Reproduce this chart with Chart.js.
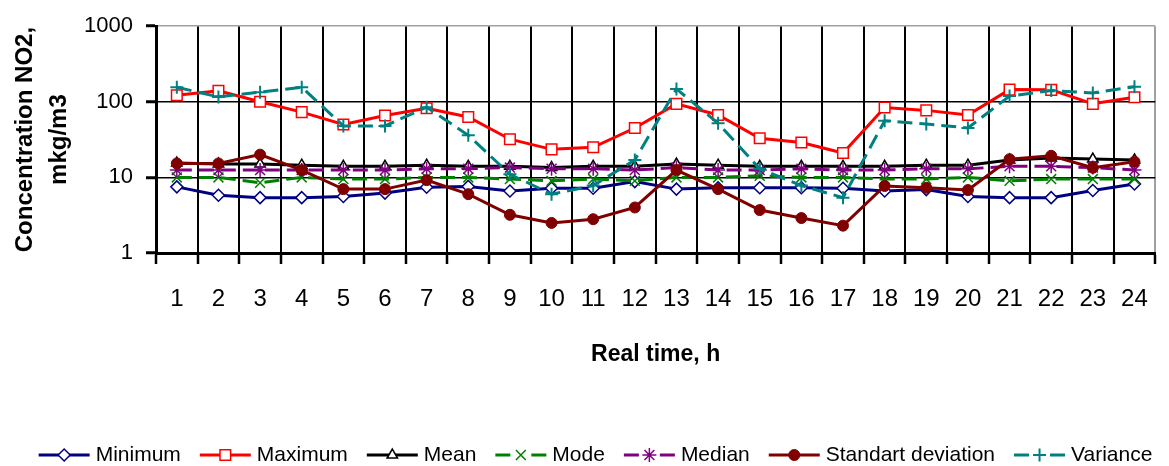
<!DOCTYPE html>
<html>
<head>
<meta charset="utf-8">
<script src="https://cdn.jsdelivr.net/npm/chart.js@4.4.1/dist/chart.umd.min.js"></script>
<style>
  html, body { margin: 0; padding: 0; background: #ffffff; }
  canvas { display: block; }
</style>
</head>
<body>
<canvas id="no2Chart" width="1169" height="466"></canvas>
<script>
// Hourly NO2 statistics, mkg/m3
const hours = ['1','2','3','4','5','6','7','8','9','10','11','12','13','14','15','16','17','18','19','20','21','22','23','24'];
const yTickValues = [1, 10, 100, 1000];

const minimum  = [7.5, 5.8, 5.4, 5.4, 5.6, 6.2, 7.4, 7.6, 6.6, 7.2, 7.2, 8.8, 7.0, 7.3, 7.3, 7.3, 7.2, 6.6, 6.9, 5.6, 5.4, 5.4, 6.7, 8.2];
const maximum  = [122, 140, 100, 73, 50, 66, 82, 63, 32, 23.5, 25, 45, 94, 67, 33, 29, 21, 84, 77, 67, 145, 144, 94, 115];
const mean     = [15.5, 15, 15, 14.5, 14, 14, 14.5, 14, 14, 13.5, 14, 14, 15, 14.5, 14, 14, 14, 14, 14.5, 14.5, 17, 18, 17.5, 17];
const mode     = [10, 10, 8.5, 10, 9.5, 9.5, 10, 10, 9.5, 9, 9.5, 9, 10, 10, 10.5, 10, 10, 9.5, 9.5, 10, 9, 9.5, 9.5, 9.5];
const median   = [12.5, 12.5, 12.5, 12.5, 12.5, 12.5, 13, 13, 13.5, 13, 13, 12.5, 13.5, 12.5, 12.5, 13, 12.5, 12.5, 13, 13, 14, 14, 13.5, 12.5];
const stdDev   = [15.3, 15.3, 20, 12.5, 7.0, 7.0, 9.2, 6.0, 3.2, 2.5, 2.8, 4.0, 12.5, 7.0, 3.7, 2.9, 2.3, 7.7, 7.3, 6.8, 17.4, 19.3, 13.4, 16.1];
const variance = [156, 116, 134, 156, 48, 48, 85, 36, 11, 6.0, 7.8, 17, 148, 52, 13, 7.8, 5.4, 56, 51, 45, 119, 141, 131, 158];

const seriesNames = ['Minimum', 'Maximum', 'Mean', 'Mode', 'Median', 'Standart deviation', 'Variance'];
const seriesValues = [minimum, maximum, mean, mode, median, stdDev, variance];

// Line and marker look of each series
const seriesStyles = [
  { color: '#000080', point: 'rectRot',  radius: 6,   fill: '#ffffff', pw: 1.5, dash: [] },
  { color: '#ff0000', point: 'rect',     radius: 7.5, fill: '#ffffff', pw: 1.5, dash: [] },
  { color: '#000000', point: 'triangle', radius: 6,   fill: '#ffffff', pw: 1.5, dash: [] },
  { color: '#008000', point: 'crossRot', radius: 7,   fill: '#008000', pw: 1.5, dash: [15, 7] },
  { color: '#800080', point: 'star',     radius: 7,   fill: '#800080', pw: 1.5, dash: [15, 7] },
  { color: '#800000', point: 'circle',   radius: 5.5, fill: '#800000', pw: 1,   dash: [] },
  { color: '#008080', point: 'cross',    radius: 6.5, fill: '#008080', pw: 2,   dash: [15, 7] }
];

Chart.defaults.font.family = "'Liberation Sans', Arial, Helvetica, sans-serif";
Chart.defaults.color = '#000000';

const datasets = seriesNames.map((name, i) => {
  const s = seriesStyles[i];
  return {
    label: name,
    data: seriesValues[i],
    borderColor: s.color,
    backgroundColor: s.fill,
    borderWidth: 3,
    borderDash: s.dash,
    tension: 0,
    pointStyle: s.point,
    pointRadius: s.radius,
    pointHoverRadius: s.radius,
    pointBackgroundColor: s.fill,
    pointBorderColor: s.color,
    pointBorderWidth: s.pw,
    order: seriesNames.length - i
  };
});

// Legend entries: a short line with the series marker in its middle
const legendSymbols = {
  id: 'legendSymbols',
  afterUpdate(chart) {
    const lg = chart.legend;
    if (!lg || !lg.legendHitBoxes) return;
    const dx = 14, dy = 9.5;
    lg.left += dx; lg.right += dx; lg.top += dy; lg.bottom += dy;
    lg.legendHitBoxes.forEach(h => { h.left += dx; h.top += dy; });
  },
  afterDraw(chart) {
    const lg = chart.legend;
    if (!lg || !lg.legendHitBoxes) return;
    const ctx = chart.ctx;
    const drawPoint = Chart.helpers && Chart.helpers.drawPoint;
    lg.legendHitBoxes.forEach((h, i) => {
      const ds = chart.data.datasets[i];
      const y = h.top + h.height / 2;
      const x0 = h.left, x1 = h.left + 51, xm = (x0 + x1) / 2;
      ctx.save();
      ctx.setLineDash([]);
      ctx.strokeStyle = ds.borderColor;
      ctx.lineWidth = 3;
      ctx.beginPath();
      if (ds.borderDash && ds.borderDash.length) {
        ctx.moveTo(x0, y); ctx.lineTo(x0 + 15, y);
        ctx.moveTo(x1 - 15, y); ctx.lineTo(x1, y);
      } else {
        ctx.moveTo(x0, y); ctx.lineTo(x1, y);
      }
      ctx.stroke();
      if (drawPoint) {
        ctx.fillStyle = ds.pointBackgroundColor;
        ctx.strokeStyle = ds.pointBorderColor;
        ctx.lineWidth = ds.pointBorderWidth;
        drawPoint(ctx, { pointStyle: ds.pointStyle, radius: ds.pointRadius, rotation: 0, borderWidth: ds.pointBorderWidth }, xm, y);
      }
      ctx.restore();
    });
  }
};

new Chart(document.getElementById('no2Chart'), {
  type: 'line',
  data: { labels: hours, datasets: datasets },
  plugins: [legendSymbols],
  options: {
    responsive: false,
    animation: false,
    devicePixelRatio: 1,
    layout: { padding: { left: 0, right: 6, top: 22, bottom: 0 } },
    plugins: {
      tooltip: { enabled: false },
      legend: {
        position: 'bottom',
        labels: {
          font: { size: 21 },
          color: '#000000',
          boxWidth: 46.5,
          padding: 19,
          generateLabels(chart) {
            return chart.data.datasets.map((ds, i) => ({
              text: ds.label,
              fillStyle: 'rgba(0,0,0,0)',
              strokeStyle: 'rgba(0,0,0,0)',
              lineWidth: 0,
              hidden: false,
              datasetIndex: i
            }));
          }
        }
      }
    },
    scales: {
      x: {
        type: 'category',
        offset: true,
        grid: {
          offset: true,
          drawOnChartArea: true,
          color: ctx => (ctx.tick ? '#000000' : '#a0a0a0'),
          lineWidth: 2,
          tickColor: '#000000',
          tickWidth: 2.5,
          tickLength: 11
        },
        border: { display: true, color: '#000000', width: 3 },
        ticks: { font: { size: 24 }, color: '#000000', padding: 21, maxRotation: 0, autoSkip: false },
        title: {
          display: true,
          text: 'Real time, h',
          font: { size: 23, weight: 'bold' },
          color: '#000000',
          padding: { top: 0, bottom: 48 }
        },
        afterFit(scale) { scale.height = 163; }
      },
      y: {
        type: 'logarithmic',
        min: 1,
        max: 1000,
        afterBuildTicks(scale) { scale.ticks = yTickValues.map(v => ({ value: v })); },
        grid: {
          color: ctx => (ctx.tick && ctx.tick.value === 1000 ? '#a0a0a0' : '#000000'),
          lineWidth: 1.5,
          tickColor: '#000000',
          tickWidth: 3,
          tickLength: 10
        },
        border: { display: true, color: '#000000', width: 3 },
        ticks: {
          font: { size: 22 },
          color: '#000000',
          padding: 13,
          callback: v => String(v)
        },
        title: {
          display: true,
          text: ['Concentration NO2,', 'mkg/m3'],
          font: { size: 24, weight: 'bold', lineHeight: 1.417 },
          color: '#000000',
          padding: { top: 8.5, bottom: 0 }
        },
        afterFit(scale) { scale.width = 156; }
      }
    }
  }
});
</script>
</body>
</html>
